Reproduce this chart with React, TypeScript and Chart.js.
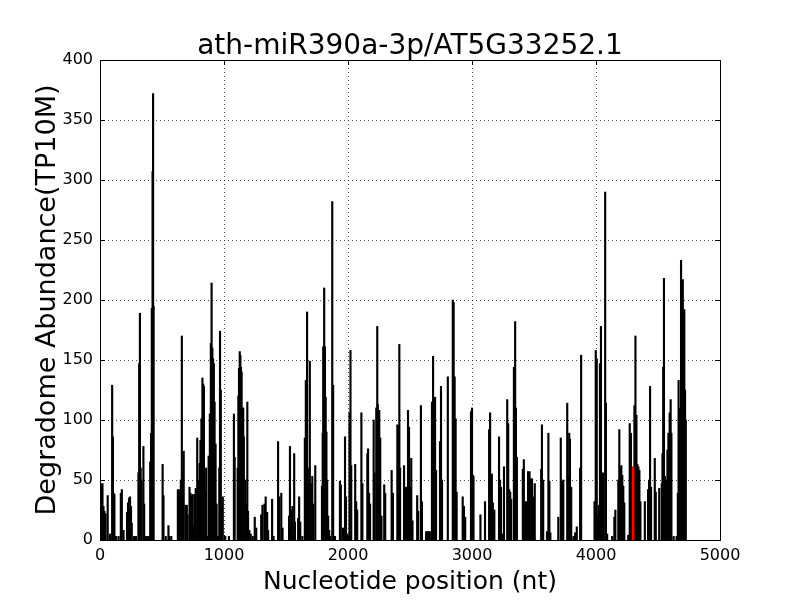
import React, { useEffect, useRef } from "react";
import { Chart, registerables } from "chart.js";

Chart.register(...registerables);

const TITLE = "ath-miR390a-3p/AT5G33252.1";
const X_LABEL = "Nucleotide position (nt)";
const Y_LABEL = "Degradome Abundance(TP10M)";
const X_TICKS = [0, 1000, 2000, 3000, 4000, 5000];
const Y_TICKS = [0, 50, 100, 150, 200, 250, 300, 350, 400];

// Read positions (nt) and abundances (TP10M) of the black peaks
const positions: number[] = [
  5, 12, 20, 28, 35, 45, 62, 80, 98, 104, 110, 116, 130, 150, 168, 176, 190, 218, 226, 234, 242, 250, 256, 275, 290,
  310, 316, 322, 328, 335, 350, 356, 372, 385, 398, 405, 412, 418, 424, 428, 432, 505, 512, 530, 552, 560, 575,
  628, 640, 652, 660, 668, 675, 690, 700, 706, 722, 730, 740, 748, 756, 766, 772, 784, 790, 796, 803, 810, 818, 826,
  832, 838, 846, 856, 866, 876, 886, 894, 900, 906, 912, 918, 924, 932, 940, 952, 962, 968, 974, 982, 990, 1010,
  1040, 1080, 1086, 1110, 1116, 1121, 1127, 1132, 1137, 1142, 1148, 1155, 1160, 1172, 1180, 1188, 1194, 1205, 1216,
  1232, 1248, 1260, 1300, 1310, 1326, 1336, 1348, 1356, 1388, 1400, 1436, 1446, 1462, 1472, 1525, 1532, 1545, 1552,
  1566, 1572, 1598, 1606, 1615, 1632, 1652, 1660, 1670, 1676, 1685, 1692, 1700, 1712, 1720, 1736, 1790, 1796, 1800,
  1808, 1814, 1820, 1826, 1832, 1840, 1848, 1855, 1873, 1880, 1895, 1935, 1942, 1960, 1976, 1984,
  1997, 2012, 2020, 2026, 2058, 2066, 2074, 2108, 2116, 2156, 2162, 2170, 2178, 2207, 2214, 2228, 2236, 2240, 2246,
  2252, 2260, 2270, 2292, 2300, 2352, 2362, 2398, 2406, 2414, 2420, 2452, 2462, 2472, 2484, 2492, 2502, 2510, 2520,
  2558, 2566, 2588, 2596, 2630, 2640, 2650, 2660, 2677, 2686, 2702, 2710, 2742, 2750, 2758, 2805, 2845, 2852, 2860,
  2868, 2876, 2925, 2935, 2945, 2992, 3000, 3006,
  3012, 3068, 3105, 3138, 3146, 3152, 3160, 3168, 3180, 3218, 3226, 3234, 3244, 3258, 3284, 3292, 3300, 3308, 3316,
  3338, 3348, 3354, 3362, 3410, 3418, 3426, 3436, 3452, 3464, 3474, 3484, 3496, 3506, 3558, 3564, 3574, 3605, 3616,
  3624, 3632, 3696, 3716, 3726, 3736, 3768, 3776, 3784, 3790, 3800, 3818, 3832, 3845, 3872, 3880,
  3988, 3998, 4006, 4014, 4022, 4032, 4040, 4048, 4056, 4074, 4080, 4090, 4130, 4148, 4156, 4180, 4188, 4196, 4204,
  4212, 4220, 4228, 4260, 4272, 4282, 4310, 4318, 4326, 4334, 4342, 4350, 4358, 4394, 4420, 4428, 4436, 4444, 4474,
  4482, 4510, 4530, 4536, 4542, 4548, 4556, 4564, 4576, 4584, 4594, 4602, 4608, 4626, 4650, 4660, 4666, 4672, 4678,
  4686, 4692, 4700, 4706, 4712, 4718, 4724,
];

const abundances: number[] = [
  47, 45, 47, 28, 24, 22, 37, 5, 129, 86, 39, 38, 3, 3, 39, 42, 8, 23, 31, 35, 36, 28, 14, 3, 3,
  56, 147, 189, 60, 50, 78, 30, 3, 3, 3, 65, 89, 193, 307, 372, 195, 63, 37, 3, 12, 3, 3,
  42, 42, 50, 170, 57, 74, 29, 29, 21, 44, 39, 37, 38, 12, 38, 43, 85, 47, 50, 64, 83, 101, 135,
  130, 128, 40, 60, 3, 70, 105, 164, 214, 160, 151, 147, 115, 80, 30, 3, 60, 174, 125, 28, 36, 3,
  3, 105, 69, 60, 120, 143, 157, 154, 144, 140, 110, 110, 86, 50, 30, 115, 24, 8, 5,
  3, 19, 10, 21, 29, 30, 36, 23, 8, 34, 3, 82, 36, 39, 10, 20, 78, 25, 28,
  72, 15, 18, 36, 15, 3, 85, 133, 190, 60, 47, 149, 47, 53, 30, 62, 45, 89, 161,
  210, 161, 119, 90, 50, 20, 8, 3, 282, 129, 3, 49, 46, 10, 86, 36,
  5, 106, 158, 62, 63, 32, 25, 106, 47, 72, 76, 39, 30, 100, 56, 110, 178, 113, 106,
  108, 85, 20, 46, 39, 58, 39, 96, 95, 163, 60, 62, 44, 44, 108, 94, 44, 68, 16,
  37, 24, 112, 32, 7, 7, 7, 7, 115, 153, 119, 58, 82, 128, 50, 136, 200, 198, 136,
  101, 40, 36, 28, 19, 107, 110, 54,
  53, 21, 32, 92, 106, 53, 55, 31, 25, 86, 50, 44, 5, 61, 117, 97, 42, 40, 34,
  144, 182, 110, 69, 59, 67, 31, 32, 57, 57, 51, 51, 36, 47, 59, 96, 50, 7, 89,
  49, 6, 19, 85, 49, 50, 114, 53, 89, 84, 44, 3, 6, 11, 60, 154,
  32, 158, 151, 20, 29, 147, 178, 54, 56, 290, 114, 5, 3, 19, 25, 50, 92, 60, 62,
  54, 45, 31, 4, 97, 89, 112, 170, 104, 63, 61, 58, 32, 32, 42, 50, 128, 44, 68,
  40, 43, 47, 72, 144, 218, 53, 50, 75, 89, 106, 117, 89, 3, 3, 39, 133, 110, 108,
  233, 174, 217, 190, 192, 125, 100,
];

// The highlighted (red) cleavage site
const sitePositions: number[] = [4299];
const siteAbundances: number[] = [61];

const FONT = "'DejaVu Sans', sans-serif";

const framePlugin = {
  id: "framePlugin",
  afterDraw(chart: any) {
    const { ctx } = chart;
    const xs = chart.scales.x;
    const ys = chart.scales.y;
    const { left, top, right, bottom } = chart.chartArea;
    ctx.save();
    ctx.strokeStyle = "#000";
    ctx.lineWidth = 1;
    ctx.beginPath();
    // inward tick marks
    X_TICKS.forEach((v) => {
      const px = Math.round(xs.getPixelForValue(v)) + 0.5;
      ctx.moveTo(px, bottom);
      ctx.lineTo(px, bottom - 5);
      ctx.moveTo(px, top);
      ctx.lineTo(px, top + 5);
    });
    Y_TICKS.forEach((v) => {
      const py = Math.round(ys.getPixelForValue(v)) + 0.5;
      ctx.moveTo(left, py);
      ctx.lineTo(left + 5, py);
      ctx.moveTo(right, py);
      ctx.lineTo(right - 5, py);
    });
    ctx.stroke();
    ctx.strokeRect(Math.round(left) + 0.5, Math.round(top) + 0.5, Math.round(right - left), Math.round(bottom - top));

    ctx.fillStyle = "#000";
    ctx.textAlign = "center";
    ctx.textBaseline = "alphabetic";
    ctx.font = `28px ${FONT}`;
    ctx.fillText(TITLE, (left + right) / 2, 54);
    ctx.font = `25px ${FONT}`;
    ctx.fillText(X_LABEL, (left + right) / 2, 589);
    ctx.translate(55, (top + bottom) / 2);
    ctx.rotate(-Math.PI / 2);
    ctx.font = `27px ${FONT}`;
    ctx.fillText(Y_LABEL, 0, 0);
    ctx.restore();
  },
};

export default function App() {
  const ref = useRef<HTMLCanvasElement | null>(null);

  useEffect(() => {
    if (!ref.current) return;
    const main = positions.map((p, i) => ({ x: p, y: abundances[i] }));
    const site = sitePositions.map((p, i) => ({ x: p, y: siteAbundances[i] }));
    const chart = new Chart(ref.current, {
      type: "bar",
      data: {
        datasets: [
          {
            data: site,
            backgroundColor: "#ff0000",
            borderWidth: 0,
            barThickness: 2,
            grouped: false,
            order: 0,
          } as any,
          {
            data: main,
            backgroundColor: "#000000",
            borderWidth: 0,
            barThickness: 1.5,
            grouped: false,
            order: 1,
          } as any,
        ],
      },
      options: {
        animation: false,
        responsive: false,
        devicePixelRatio: 1,
        layout: { padding: { top: 60, right: 80, bottom: 0, left: 0 } },
        plugins: {
          legend: { display: false },
          tooltip: { enabled: false },
          title: { display: false },
        },
        scales: {
          x: {
            type: "linear",
            min: 0,
            max: 5000,
            offset: false,
            afterFit: (s: any) => {
              s.height = 60;
            },
            afterBuildTicks: (s: any) => {
              s.ticks = X_TICKS.map((v) => ({ value: v }));
            },
            ticks: {
              color: "#000",
              font: { family: FONT, size: 16 },
              padding: 6,
              maxRotation: 0,
              autoSkip: false,
              callback: (v: any) => String(v),
            },
            grid: {
              color: "#000",
              lineWidth: 0.7,
              drawTicks: false,
              offset: false,
            },
            border: { display: false, dash: [1, 3] },
          },
          y: {
            type: "linear",
            min: 0,
            max: 400,
            afterFit: (s: any) => {
              s.width = 100;
            },
            afterBuildTicks: (s: any) => {
              s.ticks = Y_TICKS.map((v) => ({ value: v }));
            },
            ticks: {
              color: "#000",
              font: { family: FONT, size: 16 },
              padding: 7,
              callback: (v: any) => String(v),
            },
            grid: {
              color: "#000",
              lineWidth: 0.7,
              drawTicks: false,
            },
            border: { display: false, dash: [1, 3] },
          },
        },
      },
      plugins: [framePlugin],
    });
    return () => chart.destroy();
  }, []);

  return (
    <div style={{ position: "absolute", left: 0, top: 0, width: 800, height: 600, background: "#fff" }}>
      <canvas ref={ref} width={800} height={600} style={{ width: 800, height: 600, display: "block" }} />
    </div>
  );
}
